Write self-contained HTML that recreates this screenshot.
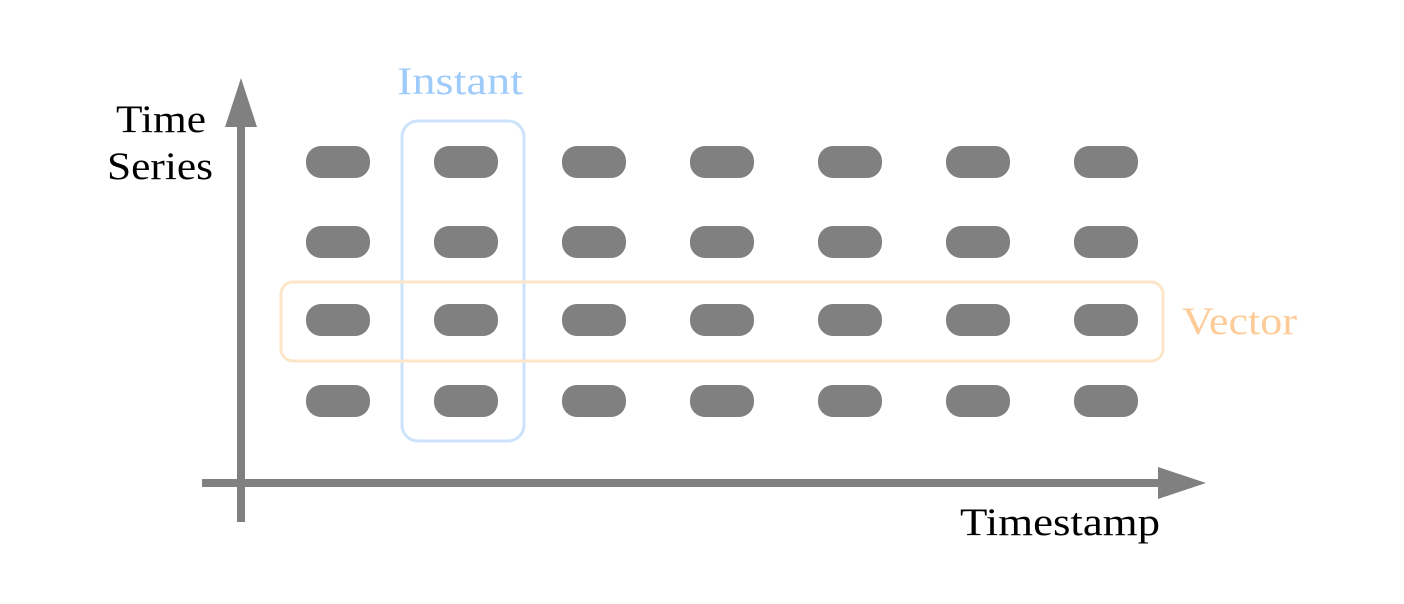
<!DOCTYPE html>
<html><head><meta charset="utf-8"><style>
html,body{margin:0;padding:0;background:#fff;}
svg{display:block;}
text{font-family:"Liberation Serif",serif;font-size:39px;}
</style></head><body>
<svg width="1404" height="604" viewBox="0 0 1404 604">
<g id="boxes"></g>
<g id="pills"></g>
<line x1="241" y1="522" x2="241" y2="122" stroke="#808080" stroke-width="8"/>
<polygon points="241,78 225,127 257,127" fill="#808080"/>
<line x1="202" y1="483" x2="1162" y2="483" stroke="#808080" stroke-width="8"/>
<polygon points="1206,483 1158,467 1158,499" fill="#808080"/>
<text x="116" y="132" textLength="90" lengthAdjust="spacingAndGlyphs" fill="#000">Time</text>
<text x="107" y="179" textLength="106" lengthAdjust="spacingAndGlyphs" fill="#000">Series</text>
<text x="960" y="535" textLength="200" lengthAdjust="spacingAndGlyphs" fill="#000">Timestamp</text>
<text x="397" y="94" textLength="126" lengthAdjust="spacingAndGlyphs" fill="#9fcbfb">Instant</text>
<text x="1182" y="334" textLength="115" lengthAdjust="spacingAndGlyphs" fill="#fdcb98">Vector</text>
</svg>
<script>
const columns = [0,1,2,3,4,5,6];
const rows = [0,1,2,3];
const instantColumn = 1;
const vectorRow = 2;
const NS='http://www.w3.org/2000/svg';
const xPos = c => 338 + c*128;
const yPos = r => [162,242,320,401][r];
const pills=document.getElementById('pills');
rows.forEach(r=>columns.forEach(c=>{
  const p=document.createElementNS(NS,'rect');
  p.setAttribute('x',xPos(c)-32);p.setAttribute('y',yPos(r)-16);
  p.setAttribute('width',64);p.setAttribute('height',32);
  p.setAttribute('rx',15);p.setAttribute('fill','#808080');
  
  
  pills.appendChild(p);
}));
const boxes=document.getElementById('boxes');
const ib=document.createElementNS(NS,'rect');
ib.setAttribute('x',xPos(instantColumn)-64);ib.setAttribute('y',121);
ib.setAttribute('width',122);ib.setAttribute('height',320);ib.setAttribute('rx',16);
ib.setAttribute('fill','none');ib.setAttribute('stroke','#cce3fb');ib.setAttribute('stroke-width',3);


boxes.appendChild(ib);
const vb=document.createElementNS(NS,'rect');
vb.setAttribute('x',281);vb.setAttribute('y',yPos(vectorRow)-38);
vb.setAttribute('width',882);vb.setAttribute('height',79);vb.setAttribute('rx',12);
vb.setAttribute('fill','none');vb.setAttribute('stroke','#fde5c8');vb.setAttribute('stroke-width',3);


boxes.appendChild(vb);
</script>
</body></html>
